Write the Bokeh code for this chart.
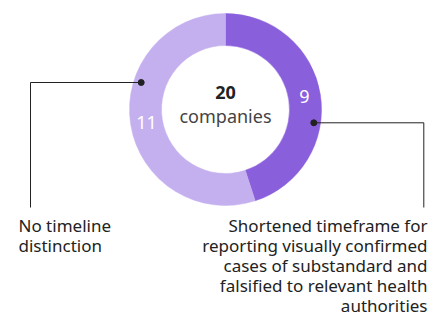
import math
from bokeh.plotting import figure
from bokeh.models import Range1d, Label
from bokeh.embed import file_html
from bokeh.resources import INLINE

# ---- data ----
categories = ["Shortened timeframe for reporting visually confirmed cases of substandard and falsified to relevant health authorities",
              "No timeline distinction"]
counts = [9, 11]
colors = ["#8a5fdc", "#c4b0ee"]
center_unit = "companies"
right_label = ["Shortened timeframe for", "reporting visually confirmed",
               "cases of substandard and", "falsified to relevant health",
               "authorities"]
left_label = ["No timeline", "distinction"]

W, H = 428, 316
p = figure(width=W, height=H, output_backend="svg", toolbar_location=None,
           x_range=Range1d(0, W), y_range=Range1d(0, H), min_border=0,
           match_aspect=False)
p.axis.visible = False
p.xgrid.visible = False
p.ygrid.visible = False
p.outline_line_color = None
p.background_fill_color = "white"
p.border_fill_color = "white"

# picture coords (top-left origin) -> figure coords
def fx(x):
    return x
def fy(y):
    return H - y

cx, cy = fx(225), fy(109)
r_in, r_out = 64, 96
total = sum(counts)

start = math.pi / 2
starts, ends, mids = [], [], []
for c in counts:
    a = 2 * math.pi * c / total
    starts.append(start)
    ends.append(start - a)
    mids.append(start - a / 2)
    start -= a

p.annular_wedge(x=[cx] * len(counts), y=[cy] * len(counts),
                inner_radius=r_in, outer_radius=r_out,
                start_angle=starts, end_angle=ends, direction="clock",
                fill_color=colors, line_color=colors, line_width=0.5)

r_mid = (r_in + r_out) / 2
font = "Noto Sans"
for c, m in zip(counts, mids):
    p.add_layout(Label(x=cx + r_mid * math.cos(m), y=cy + r_mid * math.sin(m),
                       text=str(c), text_align="center", text_baseline="middle",
                       text_font=font, text_font_size="18px",
                       text_color="white"))

p.add_layout(Label(x=cx, y=fy(92), text=str(total), text_align="center",
                   text_baseline="middle", text_font=font,
                   text_font_size="18px", text_font_style="bold", text_color="#222222"))
p.add_layout(Label(x=cx, y=fy(115), text=center_unit, text_align="center",
                   text_baseline="middle", text_font=font,
                   text_font_size="18px", text_color="#444444"))

# leader lines
p.line(x=[fx(140.7), fx(30), fx(30)], y=[fy(82), fy(82), fy(207)],
       line_color="#222222", line_width=1)
p.line(x=[fx(313.3), fx(423.3), fx(423.3)], y=[fy(122.3), fy(122.3), fy(207)],
       line_color="#222222", line_width=1)
p.scatter(x=[fx(140.7), fx(313.3)], y=[fy(82), fy(122.3)], size=6,
          fill_color="#222222", line_color="#222222")

line_h = 20
top_line = 225
for i, t in enumerate(left_label):
    p.add_layout(Label(x=fx(18), y=fy(top_line) - i * line_h, text=t,
                       text_align="left", text_baseline="middle",
                       text_font=font, text_font_size="17px",
                       text_color="#222222"))
for i, t in enumerate(right_label):
    p.add_layout(Label(x=W - 1, y=fy(top_line) - i * line_h, text=t,
                       text_align="right", text_baseline="middle",
                       text_font=font, text_font_size="17px",
                       text_color="#222222"))

open("out.html", "w").write(file_html(p, INLINE))
